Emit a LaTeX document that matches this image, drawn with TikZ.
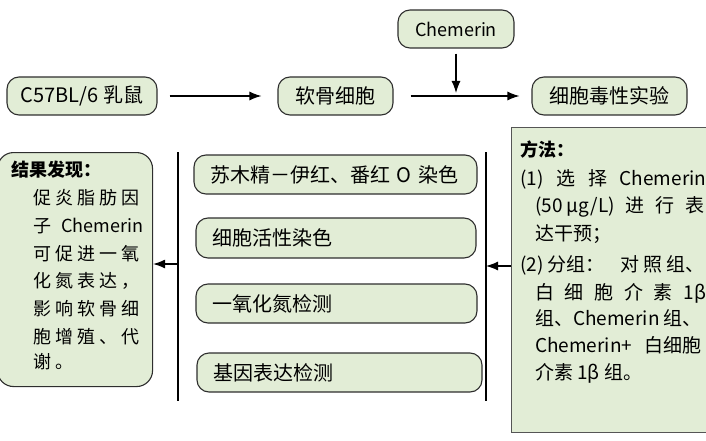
\documentclass[tikz,border=0pt]{standalone}
\usepackage{fontspec}
\setmainfont{Noto Sans CJK SC}
\usetikzlibrary{arrows.meta}
\definecolor{boxfill}{HTML}{E2EDD6}
\definecolor{boxline}{HTML}{2E2E2E}
\definecolor{mline}{HTML}{555555}
\newcommand{\rc}[1]{\makebox[22pt][l]{#1}}
\begin{document}
\begin{tikzpicture}[x=1pt,y=-1pt,
  pill/.style={draw=boxline, fill=boxfill, rounded corners=12pt, line width=1.1pt, inner sep=0pt, font=\fontsize{20}{24}\selectfont},
  lbox/.style={pill, inner xsep=16pt, align=left},
  rbox/.style={draw=boxline, fill=boxfill, rounded corners=16pt, line width=1.1pt, inner sep=0pt},
  mbox/.style={draw=mline, fill=boxfill, line width=1.2pt, inner sep=0pt},
  arr/.style={-{Latex[length=12pt,width=9pt]}, line width=1.2pt},
  vline/.style={line width=1.8pt},
  txt/.style={anchor=west, inner sep=0pt, font=\fontsize{18}{22}\selectfont},
  mtxt/.style={anchor=west, inner sep=0pt, font=\fontsize{19}{22}\selectfont},
  head/.style={txt, font=\fontsize{18}{22}\selectfont\bfseries}]
\useasboundingbox (0,0) rectangle (706,441);
\clip (0,0) rectangle (706,441);

% top row
\node[pill, minimum width=150pt, minimum height=38pt] (c57) at (82,96) {C57BL/6 乳鼠};
\node[pill, minimum width=115pt, minimum height=38pt] (cart) at (335.5,96) {软骨细胞};
\node[pill, minimum width=116pt, minimum height=38pt, font=\fontsize{18}{22}\selectfont] (chem) at (456,29) {Chemerin};
\node[pill, minimum width=155pt, minimum height=38pt] (tox) at (609.5,96) {细胞毒性实验};
\coordinate (join) at (456,93);

\draw[arr] ([xshift=12pt]c57.east) -- ([xshift=-16pt]cart.west);
\draw[arr] ([xshift=17pt]cart.east) -- ([xshift=-12pt]tox.west);
\draw[arr] ([yshift=-5pt]chem.south) -- (join);

% methods box
\node[mbox, anchor=north west, minimum width=201pt, minimum height=305pt] (meth) at (511,127) {};
\node[head] (m0) at (520,150) {方法：};
\node[mtxt] (m1) at (520,179) {\makebox[186pt][s]{(1)\hfill 选\hfill 择\hfill Chemerin}};
\node[mtxt] (m2) at (535,207) {\makebox[169pt][s]{(50 μg/L)\hfill 进\hfill 行\hfill 表}};
\node[mtxt] (m3) at (535,234) {达干预；};
\node[mtxt] (m4) at (520,265) {\makebox[184pt][s]{(2) 分组：\hspace{4pt plus 1fil}对\hspace{0pt plus 0.3fil}照\hspace{0pt plus 0.3fil}组、}};
\node[mtxt] (m5) at (535,293) {\makebox[171pt][s]{白\hfill 细\hfill 胞\hfill 介\hfill 素\hfill 1β}};
\node[mtxt] (m6) at (535,318) {组、Chemerin 组、};
\node[mtxt] (m7) at (535,345) {\makebox[166pt][s]{Chemerin+\hfill 白细胞}};
\node[mtxt] (m8) at (535,373) {介素 1β 组。};

% vertical lines
\coordinate (rt) at (486,152);
\coordinate (rb) at (486,401);
\coordinate (lt) at (178,152);
\coordinate (lb) at (178,401);
\draw[vline] (rt) -- (rb);
\draw[vline] (lt) -- (lb);

% middle boxes
\node[lbox, minimum width=283pt, minimum height=39pt, text width=251pt] (b1) at (335.5,174.5) {苏木精－伊红、番红 O 染色};
\node[lbox, minimum width=280pt, minimum height=40pt, text width=248pt] (b2) at (336,238) {细胞活性染色};
\node[lbox, minimum width=281pt, minimum height=39pt, text width=249pt] (b3) at (336.5,303.5) {一氧化氮检测};
\node[lbox, minimum width=285pt, minimum height=39pt, text width=253pt] (b4) at (339.5,372.5) {基因表达检测};

% results box
\node[rbox, anchor=north west, minimum width=155pt, minimum height=234pt] (res) at (-3,152) {};
\node[head] (r0) at (11,170) {结果发现：};
\node[txt] (r1) at (33,198) {\rc{促}\rc{炎}\rc{脂}\rc{肪}因};
\node[txt] (r2) at (33,226) {\makebox[110pt][s]{子\hfill Chemerin}};
\node[txt] (r3) at (33,254) {\rc{可}\rc{促}\rc{进}\rc{一}氧};
\node[txt] (r4) at (33,281) {\rc{化}\rc{氮}\rc{表}\rc{达}，};
\node[txt] (r5) at (33,309) {\rc{影}\rc{响}\rc{软}\rc{骨}细};
\node[txt] (r6) at (33,337) {\rc{胞}\rc{增}\rc{殖}\rc{、}代};
\node[txt] (r7) at (33,362) {\rc{谢}。};

% side arrows
\coordinate (ya) at (0,266);
\coordinate (yb) at (0,264);
\draw[arr] (meth.west |- ya) -- (rt |- ya);
\draw[arr] (lt |- yb) -- (res.east |- yb);
\end{tikzpicture}
\end{document}
